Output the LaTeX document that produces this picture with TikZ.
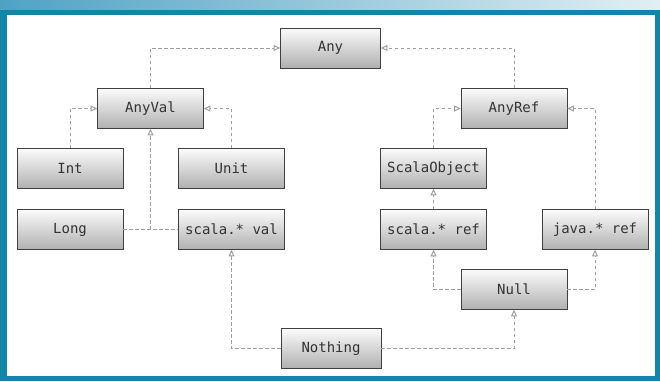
\documentclass[tikz,border=0pt]{standalone}
\usepackage{fontspec}
\setmonofont{DejaVu Sans Mono}
\usetikzlibrary{arrows.meta}
\definecolor{frameblue}{HTML}{1386A8}
\definecolor{bandleft}{HTML}{4FA2C4}
\definecolor{bandright}{HTML}{E2EFF4}
\begin{document}
\begin{tikzpicture}[x=1pt,y=-1pt,
  cls/.style={draw=gray!50!black, line width=0.7pt, top color=gray!3, bottom color=gray!62,
    minimum width=106pt, minimum height=40pt, inner sep=0pt,
    font=\ttfamily\fontsize{14}{16}\selectfont, text=black!80},
  wide/.style={cls, minimum width=100pt},
  dashes/.style={draw=gray!75, dash pattern=on 3.5pt off 2.5pt, line width=1pt},
  inh/.style={dashes, -{Triangle[open,length=6.5pt,width=6pt]}}]
  \useasboundingbox (0,0) rectangle (660,381);
  \fill[frameblue] (0,0) rectangle (660,381);
  \shade[left color=bandleft, right color=bandright] (0,0) rectangle (660,9);
  \fill[white] (7,15) rectangle (655,376);

  \node[wide] (Any) at (330.5,48) {Any};
  \node[cls] (AnyVal) at (150.5,108.5) {AnyVal};
  \node[cls] (AnyRef) at (514,108.5) {AnyRef};
  \node[cls] (Int) at (70,168.5) {Int};
  \node[cls] (Unit) at (231.5,168.5) {Unit};
  \node[cls] (ScalaObject) at (433.5,168.5) {ScalaObject};
  \node[cls] (Long) at (70,229.5) {Long};
  \node[cls] (scalaval) at (231.5,229.5) {scala.* val};
  \node[cls] (scalaref) at (433.5,229.5) {scala.* ref};
  \node[cls] (javaref) at (595,229.5) {java.* ref};
  \node[cls] (Null) at (514,289.5) {Null};
  \node[wide] (Nothing) at (331,348.5) {Nothing};

  \draw[inh] (AnyVal.north) |- (Any.west);
  \draw[inh] (AnyRef.north) |- (Any.east);
  \draw[inh] (Int.north) |- (AnyVal.west);
  \draw[inh] (Unit.north) |- (AnyVal.east);
  \draw[dashes] (Long.east) -- (scalaval.west);
  \draw[inh] (Long.east -| AnyVal.south) -- (AnyVal.south);
  \draw[inh] (ScalaObject.north) |- (AnyRef.west);
  \draw[inh] (javaref.north) |- (AnyRef.east);
  \draw[inh] (scalaref) -- (ScalaObject);
  \draw[inh] (Null.west) -| (scalaref.south);
  \draw[inh] (Null.east) -| (javaref.south);
  \draw[inh] (Nothing.west) -| (scalaval.south);
  \draw[inh] (Nothing.east) -| (Null.south);
\end{tikzpicture}
\end{document}
